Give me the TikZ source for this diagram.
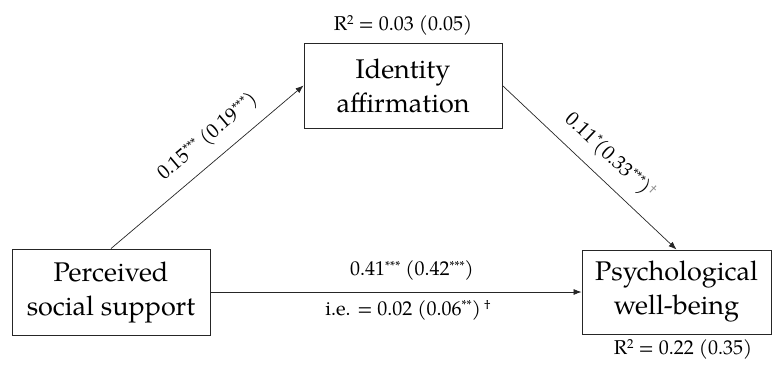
\documentclass[tikz,border=0pt]{standalone}
\usepackage{fontspec}
\setmainfont{TeX Gyre Pagella}
\usetikzlibrary{arrows.meta}
% significance marks, set as raised small text
\newcommand{\sg}[1]{\raisebox{0.6ex}{\fontsize{13}{13}\selectfont#1}}
\begin{document}
\begin{tikzpicture}[x=1pt,y=-1pt,
  var/.style={draw=black!85, line width=0.9pt, fill=white, align=center,
    inner sep=0pt, font=\fontsize{27}{34}\selectfont},
  path/.style={draw=black!85, line width=0.7pt, -{Latex[length=8pt,width=6pt]}},
  coef/.style={font=\fontsize{20}{23}\selectfont, inner sep=1pt}]
\useasboundingbox (0,0) rectangle (773,367);
% variables
\node[var, minimum width=198pt, minimum height=85pt] (ia) at (403,85.5) {Identity\\affirmation};
\node[var, minimum width=198pt, minimum height=86pt] (pss) at (111,292) {Perceived\\social support};
\node[var, minimum width=189pt, minimum height=84pt] (pwb) at (676.5,292) {Psychological\\well-being};
% paths
\draw[path] (pss.north) -- node[coef, sloped, above=11pt, pos=0.58] {0.15\sg{***} (0.19\sg{***})} (ia.west);
\draw[path] (ia.east) -- node[coef, sloped, above=11pt, pos=0.53] {0.11\sg{*}(0.33\sg{***})\sg{\color{black!45}\dag}} (pwb.north);
\draw[path] (pss.east) -- node[coef, above=10pt, xshift=16pt] {0.41\sg{***} (0.42\sg{***})}
  node[coef, below=7pt, xshift=12pt] {i.e. = 0.02 (0.06\sg{**})\,\sg{\dag}} (pwb.west);
% explained variance
\node[coef, above=6pt] (r1) at (ia.north) {R\sg{2} = 0.03 (0.05)};
\node[coef, below=4pt, xshift=6.5pt] (r2) at (pwb.south) {R\sg{2} = 0.22 (0.35)};
\end{tikzpicture}
\end{document}
